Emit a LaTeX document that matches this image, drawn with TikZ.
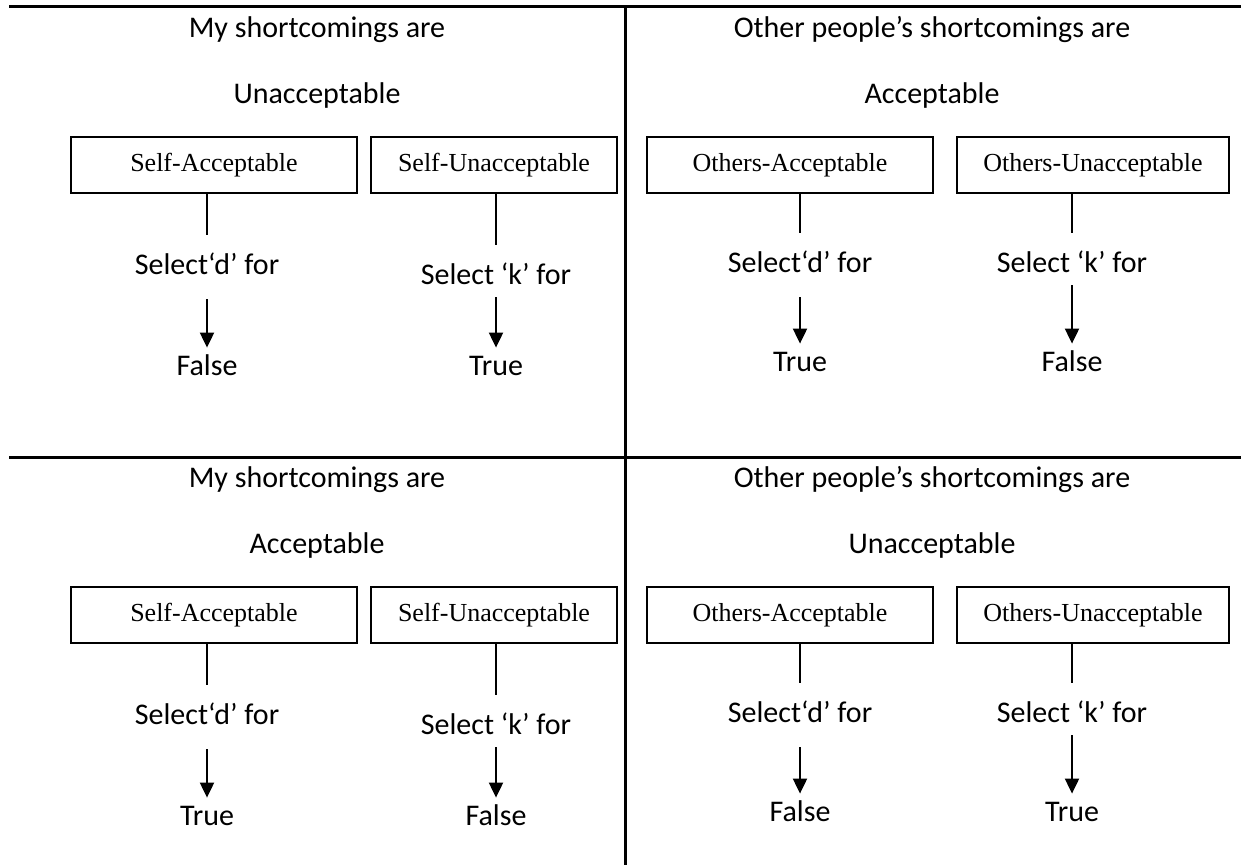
\documentclass[tikz,border=0pt]{standalone}
\usepackage{fontspec}
\setmainfont{Carlito}
\newfontfamily\boxfont{Liberation Serif}
\usepackage{tikz}
\usetikzlibrary{arrows.meta}

\begin{document}
\begin{tikzpicture}[x=0.5pt,y=-0.5pt,
    txt/.style={font=\fontsize{15}{18}\selectfont, inner sep=0pt},
    card/.style={draw, line width=1pt, minimum height=28pt, inner sep=0pt,
      font=\boxfont\fontsize{13}{15}\selectfont},
    pick/.style={txt, text height=11pt, text depth=3.5pt, inner ysep=8.75pt},
    res/.style={txt, text height=11pt, text depth=3.5pt, inner ysep=2.75pt},
    link/.style={line width=1pt},
    arr/.style={line width=1pt, -{Triangle[width=7pt,length=7.5pt]}}]
  \useasboundingbox (0,0) rectangle (1241,865);
  % table rules
  \draw[line width=1.5pt] (9,7) -- (1241,7) (9,458) -- (1241,458) (625,7) -- (625,865);
  \foreach \r/\dy/\myv/\resa/\resb/\othv/\resc/\resd in
      {t/0/Unacceptable/False/True/Acceptable/True/False,
       b/450/Acceptable/True/False/Unacceptable/False/True}{
    \begin{scope}[shift={(0,\dy)}]
      % self
      \node[txt] (my\r) at (317,30) {My shortcomings are};
      \node[txt] (myv\r) at (317,96) {\myv};
      \node[card, minimum width=143pt] (sa\r) at (214,165) {Self-Acceptable};
      \node[card, minimum width=123pt] (su\r) at (494,165) {Self-Unacceptable};
      \node[pick] (sd\r) at (207,267) {Select‘d’ for};
      \node[pick] (sk\r) at (496,277) {Select ‘k’ for};
      \node[res] (sra\r) at (207,368) {\resa};
      \node[res] (srb\r) at (496,368) {\resb};
      \draw[link] (sa\r.south -| sd\r) -- (sd\r);
      \draw[link] (su\r.south -| sk\r) -- (sk\r);
      \draw[arr] (sd\r) -- (sra\r);
      \draw[arr, shorten <=-6pt] (sk\r) -- (srb\r);
      % others
      \node[txt] (oth\r) at (932,30) {Other people’s shortcomings are};
      \node[txt] (othv\r) at (932,96) {\othv};
      \node[card, minimum width=143pt] (oa\r) at (790,165) {Others-Acceptable};
      \node[card, minimum width=136pt] (ou\r) at (1093,165) {Others-Unacceptable};
      \node[pick] (od\r) at (800,265) {Select‘d’ for};
      \node[pick] (ok\r) at (1072,265) {Select ‘k’ for};
      \node[res] (ora\r) at (800,364) {\resc};
      \node[res] (orb\r) at (1072,364) {\resd};
      \draw[link] (oa\r.south -| od\r) -- (od\r);
      \draw[link] (ou\r.south -| ok\r) -- (ok\r);
      \draw[arr] (od\r) -- (ora\r);
      \draw[arr, shorten <=-6pt] (ok\r) -- (orb\r);
    \end{scope}}
\end{tikzpicture}
\end{document}
